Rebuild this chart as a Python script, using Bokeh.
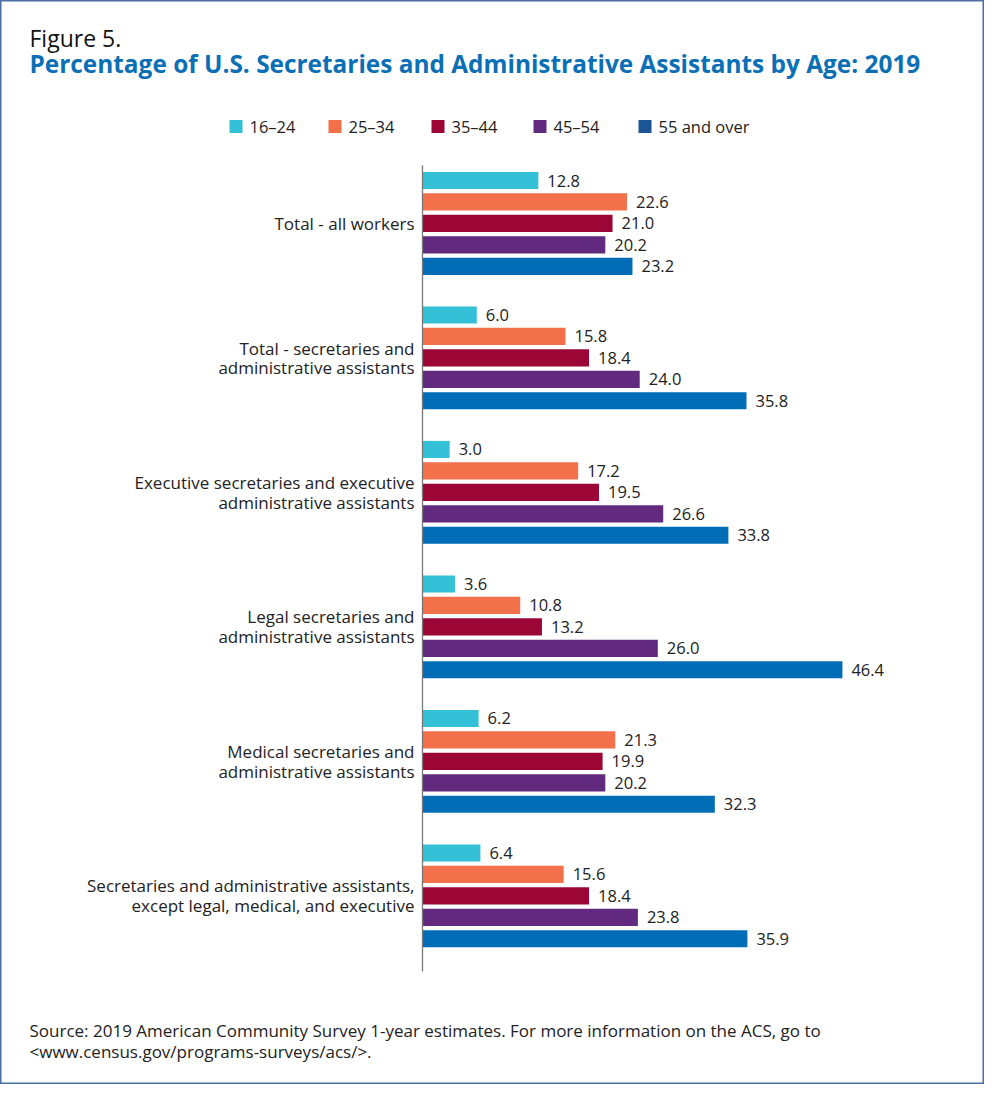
from bokeh.plotting import figure
from bokeh.models import Range1d, ColumnDataSource
from bokeh.core.properties import value
from bokeh.embed import file_html
from bokeh.resources import INLINE

categories = [
    "Total - all workers",
    "Total - secretaries and\nadministrative assistants",
    "Executive secretaries and executive\nadministrative assistants",
    "Legal secretaries and\nadministrative assistants",
    "Medical secretaries and\nadministrative assistants",
    "Secretaries and administrative assistants,\nexcept legal, medical, and executive",
]
age_groups = ["16\u201324", "25\u201334", "35\u201344", "45\u201354", "55 and over"]
v_16_24 = [12.8, 6.0, 3.0, 3.6, 6.2, 6.4]
v_25_34 = [22.6, 15.8, 17.2, 10.8, 21.3, 15.6]
v_35_44 = [21.0, 18.4, 19.5, 13.2, 19.9, 18.4]
v_45_54 = [20.2, 24.0, 26.6, 26.0, 20.2, 23.8]
v_55_over = [23.2, 35.8, 33.8, 46.4, 32.3, 35.9]
series = [v_16_24, v_25_34, v_35_44, v_45_54, v_55_over]
bar_colors = ["#34c0d6", "#f2714a", "#9b0637", "#612a7e", "#006db6"]
legend_colors = ["#34c0d6", "#f2714a", "#9b0637", "#612a7e", "#1c5596"]

W, H = 984, 1084
PX_PER_PCT = 9.05
AXIS_X = 422          # canvas px of 0%
SLOT = 21.45          # px per bar slot
GROUP_STEP = 6.27     # slots per group
FIRST_Y = 180         # canvas px of first bar center

x0 = -AXIS_X / PX_PER_PCT
y_top = -FIRST_Y / SLOT

def px_x(c):
    return x0 + c / PX_PER_PCT

def px_y(c):
    return y_top + c / SLOT

p = figure(width=W, height=H, output_backend="svg", toolbar_location=None,
           x_range=Range1d(x0, x0 + W / PX_PER_PCT),
           y_range=Range1d(y_top + H / SLOT, y_top),
           min_border=0, tools="")
p.axis.visible = False
p.grid.visible = False
p.outline_line_color = "#4a6fa5"
p.outline_line_width = 2
p.background_fill_color = "white"

FONT = "Open Sans"
FS = "16.5px"

# bars
for k, (vals, col) in enumerate(zip(series, bar_colors)):
    ys = [g * GROUP_STEP + k for g in range(len(categories))]
    src = ColumnDataSource(dict(y=ys, right=vals,
                                lab=[f"{v:.1f}" for v in vals],
                                lx=[v + 9 / PX_PER_PCT for v in vals]))
    p.hbar(y="y", left=0, right="right", height=0.8, source=src,
           fill_color=col, line_color=None)
    p.text(x="lx", y="y", text="lab", source=src, text_font=value(FONT),
           text_font_size=FS, text_color="#222222",
           text_baseline="middle", text_align="left")

# axis line
p.segment(x0=[0], x1=[0], y0=[px_y(165)], y1=[px_y(971)],
          line_color="#777777", line_width=1.3)

# category labels
cy = [g * GROUP_STEP + 2 for g in range(len(categories))]
p.text(x=[px_x(AXIS_X - 8)] * len(categories), y=cy, text=categories,
       text_font=value(FONT), text_font_size="17px", text_color="#222222",
       text_align="right", text_baseline="middle", text_line_height=0.86)

# titles
p.text(x=[px_x(29)], y=[px_y(37)], text=["Figure 5."], text_font=value(FONT),
       text_font_size="23px", text_color="#111111", text_baseline="middle")
p.text(x=[px_x(29)], y=[px_y(63)],
       text=["Percentage of U.S. Secretaries and Administrative Assistants by Age: 2019"],
       text_font=value(FONT), text_font_style="bold", text_font_size="24.4px",
       text_color="#0b6fb5", text_baseline="middle")

# legend
sw_x = [229, 328, 431, 533, 638]
for lx, lab, col in zip(sw_x, age_groups, legend_colors):
    p.rect(x=[px_x(lx + 6.5)], y=[px_y(126)], width=13 / PX_PER_PCT,
           height=13 / SLOT, fill_color=col, line_color=None)
    p.text(x=[px_x(lx + 20)], y=[px_y(126)], text=[lab], text_font=value(FONT),
           text_font_size=FS, text_color="#222222", text_baseline="middle")

# source
p.text(x=[px_x(29)], y=[px_y(1030)],
       text=["Source: 2019 American Community Survey 1-year estimates. For more information on the ACS, go to"],
       text_font=value(FONT), text_font_size="17px", text_color="#222222",
       text_baseline="middle")
p.text(x=[px_x(29)], y=[px_y(1051)],
       text=["<www.census.gov/programs-surveys/acs/>."],
       text_font=value(FONT), text_font_size="17px", text_color="#222222",
       text_baseline="middle")

open("out.html", "w").write(file_html(p, INLINE))
